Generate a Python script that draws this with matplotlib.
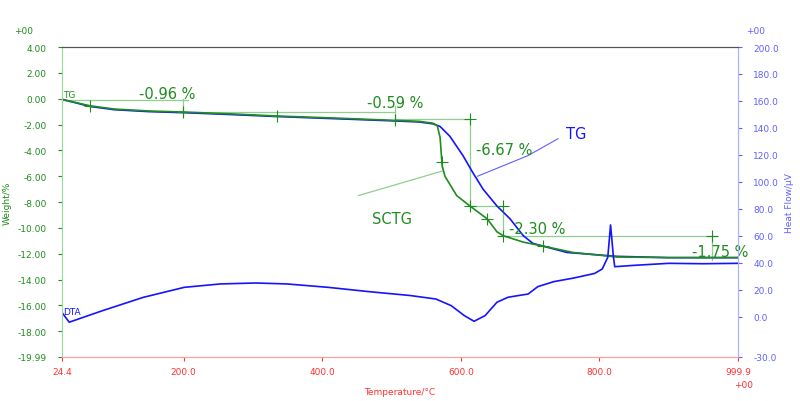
import matplotlib
matplotlib.use("Agg")
import matplotlib.pyplot as plt

# --- data ---
T_sctg = [24.4,65,100,150,200,270,335,420,505,540,560,566,570,573,577,594,613,638,652,661,690,718,762,825,900,999.9]
W_sctg = [-0.05,-0.55,-0.8,-0.95,-1.03,-1.18,-1.34,-1.5,-1.68,-1.75,-1.9,-2.1,-3.0,-5.2,-6.0,-7.5,-8.3,-9.3,-10.3,-10.6,-11.1,-11.4,-11.9,-12.25,-12.3,-12.3]
T_tg = [24.4,65,100,150,200,270,335,420,505,540,560,570,584,603,617,632,652,671,690,704,753,825,900,999.9]
W_tg = [-0.05,-0.6,-0.85,-1.0,-1.08,-1.23,-1.38,-1.55,-1.72,-1.8,-1.95,-2.15,-2.9,-4.4,-5.7,-7.0,-8.3,-9.3,-10.6,-11.2,-11.9,-12.2,-12.3,-12.3]
T_dta = [24.4,34.8,83,142,201,253,304,349,408,467,527,564,586,605,619,635,652,668,682,697,711,734,763,793,804,812,816,820,822,850,900,950,999.9]
V_dta = [3.0,-4.2,4.4,14.3,21.7,24.2,24.9,24.2,21.7,18.5,15.6,13.0,8.1,0.7,-3.5,0.7,10.6,14.3,15.5,16.7,22.2,25.9,28.6,32,35.3,44,68,45,37,38,39.5,39.2,39.5]

steps = ["-0.96 %", "-0.59 %", "-6.67 %", "-2.30 %", "-1.75 %"]
xticks = [24.4, 200, 400, 600, 800, 999.9]
xticklabels = ["24.4", "200.0", "400.0", "600.0", "800.0", "999.9"]
lyticks = [4, 2, 0, -2, -4, -6, -8, -10, -12, -14, -16, -18, -19.99]
ryticks = [200, 180, 160, 140, 120, 100, 80, 60, 40, 20, 0, -30]

GREEN = '#1e8c1e'; BLUE = '#1414ff'; LG = '#8fcf8f'
LBLUE = '#6060ff'; RED = '#ff3030'

fig = plt.figure(figsize=(8, 4.02), dpi=100)
ax = fig.add_axes([0.0775, 0.1095, 0.845, 0.771])
ax2 = ax.twinx()
ax.set_xlim(24.4, 999.9)
ax.set_ylim(-19.99, 4)
ax2.set_ylim(-28, 200)

ax.plot(T_tg, W_tg, color=BLUE, lw=1.2, zorder=3)
ax.plot(T_sctg, W_sctg, color=GREEN, lw=1.2, zorder=4)
ax2.plot(T_dta, V_dta, color=BLUE, lw=1.2)

# step annotations
seg = dict(color=LG, lw=0.9, zorder=2)
ax.plot([24.4, 206], [-0.1, -0.1], **seg); ax.plot([199, 199], [-0.05, -1.3], **seg)
ax.plot([199, 505], [-1.0, -1.0], **seg); ax.plot([505, 505], [-0.6, -1.85], **seg)
ax.plot([505, 613], [-1.6, -1.6], **seg); ax.plot([613, 613], [-1.6, -8.3], **seg)
ax.plot([613, 661], [-8.3, -8.3], **seg); ax.plot([661, 661], [-8.3, -10.6], **seg)
ax.plot([661, 970], [-10.6, -10.6], **seg); ax.plot([963, 963], [-10.6, -12.5], **seg)
mk = [(65, -0.55), (199, -1.03), (335, -1.34), (505, -1.68), (573, -4.9), (613, -8.3),
      (638, -9.3), (661, -10.6), (718, -11.4), (613, -1.6), (661, -8.3), (963, -10.6)]
for x, y in mk:
    ax.plot(x, y, marker='+', ms=8, color=GREEN, mew=0.8, zorder=5)

tkw = dict(color=GREEN, fontsize=10.5, ha='left', va='bottom')
ax.text(136, -0.2, steps[0], **tkw)
ax.text(464, -0.9, steps[1], **tkw)
ax.text(622, -4.5, steps[2], **tkw)
ax.text(669, -10.6, steps[3], **tkw)
ax.text(934, -12.4, steps[4], **tkw)
ax.text(472, -8.7, "SCTG", color=GREEN, fontsize=10.5, va='top')
ax.plot([452, 573], [-7.5, -5.6], color=LG, lw=0.9)
ax.text(752, -2.7, "TG", color=BLUE, fontsize=10.5, va='center')
ax.plot([624, 697, 740], [-6.0, -4.4, -3.1], color=LBLUE, lw=0.8)
ax.text(26, 0.0, "TG", color=GREEN, fontsize=6.5, va='bottom')
ax2.text(26, 0.5, "DTA", color=BLUE, fontsize=6.5, va='bottom')

# axes styling
ax.set_xticks(xticks); ax.set_xticklabels(xticklabels)
ax.set_yticks(lyticks); ax.set_yticklabels([f"{v:.2f}" for v in lyticks])
ax2.set_yticks(ryticks); ax2.set_yticklabels([f"{v:.1f}" for v in ryticks])
ax.tick_params(axis='x', colors=RED, labelsize=6.5, direction='out', length=3, pad=4)
ax.tick_params(axis='y', colors=GREEN, labelsize=6.5, direction='out', length=3, pad=8)
ax2.tick_params(axis='y', colors=LBLUE, labelsize=6.5, direction='out', length=3, pad=8)
for a in (ax, ax2):
    a.spines['left'].set_color('#a0d8a0')
    a.spines['right'].set_color('#b0b0ff')
    a.spines['bottom'].set_color('#ffa0a0')
    a.spines['top'].set_color('#555555')
ax.set_xlabel("Temperature/°C", color=RED, fontsize=6.5, labelpad=8)
ax.set_ylabel("Weight/%", color=GREEN, fontsize=6.5, labelpad=4)
ax2.set_ylabel("Heat Flow/μV", color=LBLUE, fontsize=6.5, labelpad=4)
fig.text(0.018, 0.915, "+00", color=GREEN, fontsize=6.5)
fig.text(0.933, 0.915, "+00", color=LBLUE, fontsize=6.5)
fig.text(0.918, 0.035, "+00", color=RED, fontsize=6.5)

fig.savefig("out.png", dpi=100)
